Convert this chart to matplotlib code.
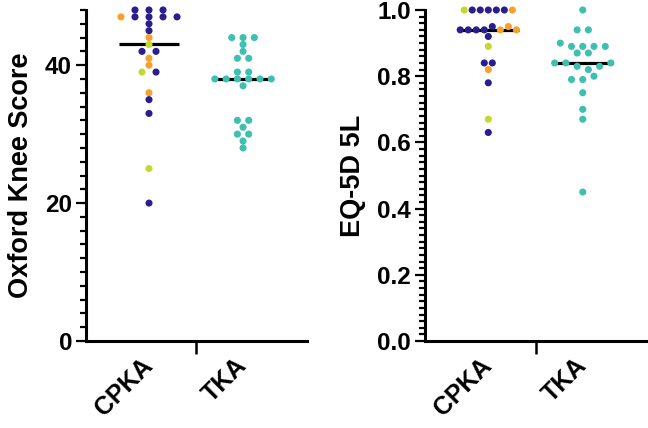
import numpy as np
import matplotlib
matplotlib.use('Agg')
import matplotlib.pyplot as plt
from matplotlib.ticker import MultipleLocator

plt.rcParams['font.family'] = ['Liberation Sans', 'DejaVu Sans']
plt.rcParams['font.weight'] = 'bold'

groups = ['CPKA', 'TKA']
navy = '#2a1d8f'
orange = '#f7a12b'
lime = '#c3da2c'
teal = '#3dbfb1'
cmap = {'n': navy, 'o': orange, 'l': lime, 't': teal}

# Oxford Knee Score
oks_cpka = [48, 48, 48, 47, 47, 47, 47, 47, 46, 45, 44, 43, 42, 42, 41, 40, 39, 39, 36, 35, 33, 25, 20]
oks_cpka_c = ['n', 'n', 'n', 'o', 'n', 'n', 'n', 'n', 'n', 'n', 'o', 'l', 'n', 'n', 'o', 'o', 'l', 'n', 'o', 'n', 'n', 'l', 'n']
oks_tka = [44, 44, 44, 43, 42, 41, 41, 39, 39, 38, 38, 38, 38, 38, 38, 37, 32, 32, 31, 30, 30, 29, 28]

# EQ-5D 5L
eq_cpka = [1.0, 1.0, 1.0, 1.0, 1.0, 1.0, 1.0,
           0.94, 0.94, 0.94, 0.94, 0.95, 0.94, 0.95, 0.94,
           0.92, 0.89, 0.84, 0.84, 0.82, 0.78, 0.67, 0.63]
eq_cpka_c = ['l', 'n', 'n', 'n', 'n', 'n', 'o',
             'n', 'n', 'n', 'n', 'n', 'o', 'o', 'o',
             'n', 'l', 'n', 'n', 'o', 'n', 'l', 'n']
eq_tka = [1.0, 0.94, 0.94, 0.90, 0.89, 0.89, 0.89, 0.89, 0.87, 0.87,
          0.84, 0.84, 0.83, 0.82, 0.83, 0.84, 0.79, 0.79, 0.80, 0.75, 0.70, 0.67, 0.45]


def swarm(vals, thr, step):
    # group close values into rows, centre every row on the category
    vals = np.asarray(vals, float)
    order = np.argsort(-vals, kind='stable')
    rows, cur, top = [], [], None
    for i in order:
        if top is None or top - vals[i] > thr:
            if cur:
                rows.append(cur)
            cur, top = [i], vals[i]
        else:
            cur.append(i)
    rows.append(cur)
    off = np.zeros(len(vals))
    for r in rows:
        r = sorted(r)
        n = len(r)
        for k, i in enumerate(r):
            off[i] = (k - (n - 1) / 2) * step
    return off


def panel(ax, data, ylim, major, minor, ylabel, fmt):
    for pos, (vals, cols, thr, step) in enumerate(data):
        x = pos + swarm(vals, thr, step)
        ax.scatter(x, vals, s=26, c=[cmap[c] for c in cols], linewidths=0,
                   zorder=3, clip_on=False)
        m = np.median(vals)
        ax.plot([pos - 0.32, pos + 0.32], [m, m], color='black', lw=2.3,
                zorder=2, solid_capstyle='butt')
    ax.set_xlim(-0.67, 1.68)
    ax.set_ylim(*ylim)
    for s in ['top', 'right']:
        ax.spines[s].set_visible(False)
    for s in ['left', 'bottom']:
        ax.spines[s].set_linewidth(2.2)
    ax.yaxis.set_major_locator(MultipleLocator(major))
    ax.yaxis.set_minor_locator(MultipleLocator(minor))
    ax.yaxis.set_major_formatter(fmt)
    ax.tick_params(axis='y', which='major', length=7, width=1.6, labelsize=17.5, pad=3)
    ax.tick_params(axis='y', which='minor', length=4, width=1.6)
    ax.set_xticks([0, 1])
    ax.set_xticklabels(groups, rotation=45, ha='right', va='center',
                       rotation_mode='anchor', fontsize=18, fontweight='bold')
    ax.set_xticks([0.5], minor=True)
    ax.tick_params(axis='x', which='major', length=0, pad=15)
    ax.tick_params(axis='x', which='minor', length=9, width=1.8)
    ax.set_ylabel(ylabel, fontsize=19.5, fontweight='bold', labelpad=8)


fig = plt.figure(figsize=(6.48, 4.28), dpi=100)
ax1 = fig.add_axes([86 / 648, 1 - 341 / 428, 221 / 648, 331 / 428])
ax2 = fig.add_axes([425 / 648, 1 - 341 / 428, 222 / 648, 331 / 428])

panel(ax1, [(oks_cpka, oks_cpka_c, 0.5, 0.149), (oks_tka, ['t'] * len(oks_tka), 0.5, 0.12)],
      (0, 48), 20, 2, 'Oxford Knee Score', '{x:.0f}')
panel(ax2, [(eq_cpka, eq_cpka_c, 0.015, 0.085), (eq_tka, ['t'] * len(eq_tka), 0.025, 0.119)],
      (0, 1.0), 0.2, 0.02, 'EQ-5D 5L', '{x:.1f}')

fig.savefig('out.png', dpi=100)
